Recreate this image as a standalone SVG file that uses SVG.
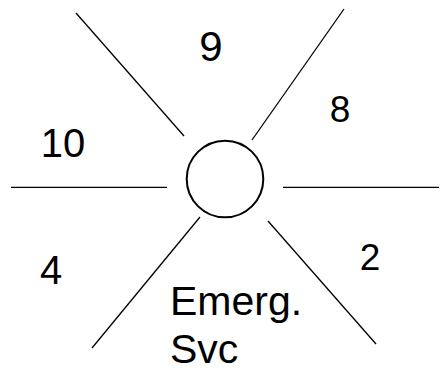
<svg xmlns="http://www.w3.org/2000/svg" width="441" height="373" viewBox="0 0 441 373">
<style>
.ln{stroke:#000;stroke-width:1.3;fill:none}
.lb{font-family:"Liberation Sans",Arial,sans-serif;fill:#000}
.c{text-anchor:middle}
</style>
<rect width="441" height="373" fill="#fff"/>
<g id="connectors">
<line class="ln" x1="76" y1="13" x2="184" y2="136"/>
<line class="ln" x1="344" y1="9" x2="252" y2="140"/>
<line class="ln" x1="11" y1="187.3" x2="167" y2="187.3"/>
<line class="ln" x1="283" y1="187.3" x2="439" y2="187.3"/>
<line class="ln" x1="200" y1="217" x2="92" y2="348"/>
<line class="ln" x1="268" y1="221" x2="376" y2="344"/>
</g>
<g id="hub">
<circle cx="225" cy="179" r="38.3" stroke="#000" stroke-width="2" fill="#fff"/>
</g>
<g id="label-9"><text class="lb c" x="211" y="61" font-size="42">9</text></g>
<g id="label-8"><text class="lb c" x="340" y="122" font-size="37">8</text></g>
<g id="label-10"><text class="lb c" x="63" y="157" font-size="40">10</text></g>
<g id="label-4"><text class="lb c" x="51" y="284" font-size="40">4</text></g>
<g id="label-2"><text class="lb c" x="370" y="270" font-size="37">2</text></g>
<g id="label-emerg">
<text class="lb" x="170" y="315" font-size="41">Emerg.</text>
<text class="lb" x="170" y="363" font-size="41">Svc</text>
</g>
</svg>
